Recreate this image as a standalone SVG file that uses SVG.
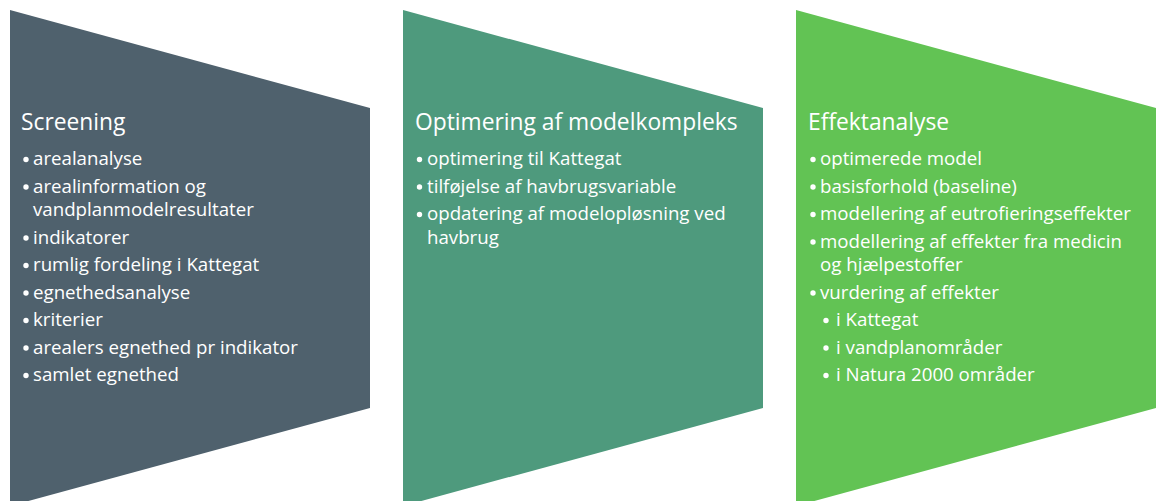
<svg xmlns="http://www.w3.org/2000/svg" width="1156" height="501" viewBox="0 0 1156 501">
<style>
.title{font-family:"Open Sans","Noto Sans",sans-serif;font-size:22.8px;fill:#ffffff}
.item{font-family:"Open Sans","Noto Sans",sans-serif;font-size:18.7px;fill:#ffffff}
.dot{fill:#ffffff}
</style>
<rect width="1156" height="501" fill="#ffffff"/>
<g id="screening">
<polygon points="10,10 370,108 370,408 10,506" fill="#4F616D"/>
<text class="title" x="21" y="129.5">Screening</text>
<g class="dot">
<circle cx="26" cy="159.5" r="2.7"/>
<circle cx="26" cy="187" r="2.7"/>
<circle cx="26" cy="238" r="2.7"/>
<circle cx="26" cy="265.5" r="2.7"/>
<circle cx="26" cy="293" r="2.7"/>
<circle cx="26" cy="320.5" r="2.7"/>
<circle cx="26" cy="348" r="2.7"/>
<circle cx="26" cy="375.5" r="2.7"/>
</g>
<text class="item" x="33" y="165">arealanalyse</text>
<text class="item" x="33" y="192.5">arealinformation og</text>
<text class="item" x="33" y="216">vandplanmodelresultater</text>
<text class="item" x="33" y="243.5">indikatorer</text>
<text class="item" x="33" y="271">rumlig fordeling i Kattegat</text>
<text class="item" x="33" y="298.5">egnethedsanalyse</text>
<text class="item" x="33" y="326">kriterier</text>
<text class="item" x="33" y="353.5">arealers egnethed pr indikator</text>
<text class="item" x="33" y="381">samlet egnethed</text>
</g>
<g id="optimering">
<polygon points="403,10 763,108 763,408 403,506" fill="#4E9A7D"/>
<text class="title" x="415" y="129.5">Optimering af modelkompleks</text>
<g class="dot">
<circle cx="419.5" cy="159.5" r="2.7"/>
<circle cx="419.5" cy="187" r="2.7"/>
<circle cx="419.5" cy="214.5" r="2.7"/>
</g>
<text class="item" x="427" y="165">optimering til Kattegat</text>
<text class="item" x="427" y="192.5">tilføjelse af havbrugsvariable</text>
<text class="item" x="427" y="220">opdatering af modelopløsning ved</text>
<text class="item" x="427" y="243.5">havbrug</text>
</g>
<g id="effektanalyse">
<polygon points="796,10 1156,108 1156,408 796,506" fill="#62C354"/>
<text class="title" x="808" y="129.5">Effektanalyse</text>
<g class="dot">
<circle cx="813" cy="159.5" r="2.7"/>
<circle cx="813" cy="187" r="2.7"/>
<circle cx="813" cy="214.5" r="2.7"/>
<circle cx="813" cy="242" r="2.7"/>
<circle cx="813" cy="293" r="2.7"/>
<circle cx="826" cy="320.5" r="2.7"/>
<circle cx="826" cy="348" r="2.7"/>
<circle cx="826" cy="375.5" r="2.7"/>
</g>
<text class="item" x="820" y="165">optimerede model</text>
<text class="item" x="820" y="192.5">basisforhold (baseline)</text>
<text class="item" x="820" y="220">modellering af eutrofieringseffekter</text>
<text class="item" x="820" y="247.5">modellering af effekter fra medicin</text>
<text class="item" x="820" y="271">og hjælpestoffer</text>
<text class="item" x="820" y="298.5">vurdering af effekter</text>
<text class="item" x="836" y="326">i Kattegat</text>
<text class="item" x="836" y="353.5">i vandplanområder</text>
<text class="item" x="836" y="381">i Natura 2000 områder</text>
</g>
</svg>
